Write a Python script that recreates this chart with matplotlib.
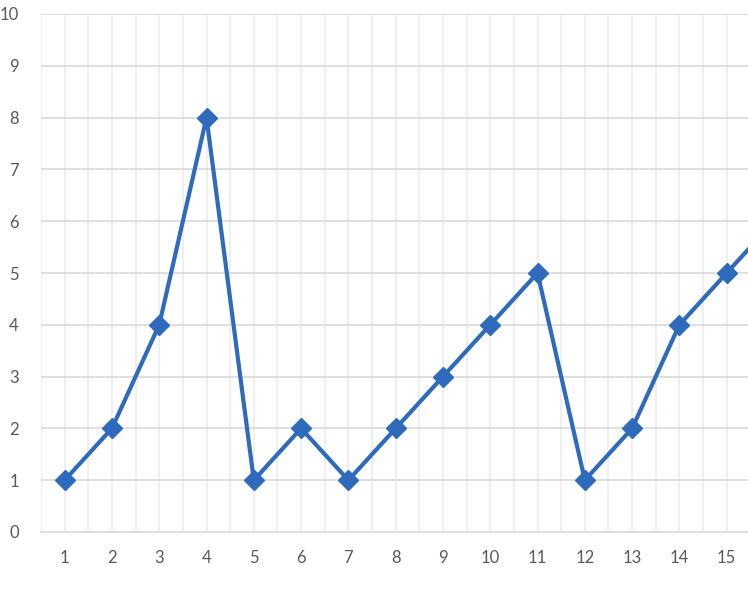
import numpy as np
import matplotlib
matplotlib.use("Agg")
import matplotlib.pyplot as plt

# series (point 16 is clipped at the right edge)
x_vals = np.arange(1, 17)
y_vals = [1, 2, 4, 8, 1, 2, 1, 2, 3, 4, 5, 1, 2, 4, 5, 6]
x_ticks = list(range(1, 16))
y_ticks = list(range(0, 11))

line_color = "#2e6bbd"
text_color = "#595959"

plt.rcParams["font.family"] = ["Lato", "DejaVu Sans"]

fig = plt.figure(figsize=(7.48, 6.0), dpi=100)
ax = fig.add_axes([41 / 748, 68 / 600, 707 / 748, 518 / 600])

ax.set_xlim(0.5, 0.5 + 707 / 47.29)
ax.set_ylim(0, 10)

# light vertical grid on each category and each boundary
for xv in np.arange(0.5, 16.0, 0.5):
    ax.axvline(xv, color="#ececec", lw=1.2, zorder=0)
for yv in y_ticks[1:]:
    ax.axhline(yv, color="#d9d9d9", lw=1.2, zorder=1)

ax.plot(x_vals, y_vals, color=line_color, lw=3.0, marker="D", markersize=10,
        zorder=3, clip_on=True)

ax.set_xticks(x_ticks)
ax.set_yticks(y_ticks)
ax.tick_params(axis="both", length=0, labelsize=12, colors=text_color)
ax.tick_params(axis="x", pad=13)
ax.tick_params(axis="y", pad=16)

for side in ("top", "right", "left"):
    ax.spines[side].set_visible(False)
ax.spines["bottom"].set_color("#d9d9d9")
ax.spines["bottom"].set_linewidth(1.2)

fig.savefig("out.png", dpi=100)
plt.close(fig)
